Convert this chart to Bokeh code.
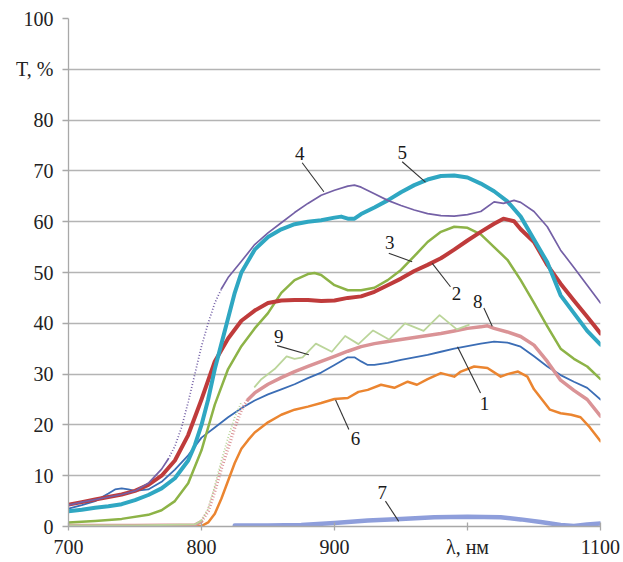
import numpy as np
from bokeh.plotting import figure
from bokeh.models import Range1d, FixedTicker
from bokeh.embed import file_html
from bokeh.resources import INLINE
from bokeh.core.properties import value

# ---------------- data ----------------
x_ticks = [700, 800, 900, 1000, 1100]
x_tick_labels = {1000: "λ, нм"}
y_ticks = [0, 10, 20, 30, 40, 50, 60, 70, 80, 90, 100]
y_tick_labels = {90: "T, %"}

x1 = [700, 710, 720, 730, 735, 740, 745, 750, 760, 770, 780, 790, 800, 810, 820, 830, 840, 850, 860, 870,
      880, 890, 900, 910, 915, 920, 925, 930, 940, 950, 960, 970, 980, 990, 1000, 1010, 1020, 1030, 1040,
      1050, 1060, 1070, 1080, 1090, 1100]
t1 = [3.5, 4.2, 5.0, 6.5, 7.3, 7.5, 7.3, 7.0, 7.3, 8.8, 11.2, 14.0, 17.5, 19.5, 21.5, 23.3, 24.8, 26.0, 27.0, 28.0,
      29.2, 30.3, 31.8, 33.3, 33.3, 32.5, 31.8, 31.8, 32.2, 32.8, 33.3, 33.8, 34.4, 35.0, 35.5, 36.0, 36.4, 36.2, 35.4,
      33.5, 31.5, 29.8, 28.5, 27.3, 25.0]

x2 = [700, 710, 720, 730, 740, 750, 760, 770, 780, 790, 800, 810, 820, 830, 840, 850, 860, 870, 880, 890, 900,
      910, 920, 930, 940, 950, 960, 970, 980, 990, 1000, 1010, 1020, 1027, 1035, 1040, 1050, 1060, 1070, 1080,
      1090, 1100]
t2 = [4.3, 4.8, 5.3, 5.8, 6.3, 7.0, 8.2, 10.0, 13.0, 18.0, 25.0, 32.5, 37.0, 40.5, 42.5, 44.0, 44.5, 44.6, 44.6,
      44.4, 44.5, 45.0, 45.3, 46.2, 47.5, 48.8, 50.3, 51.5, 52.8, 54.5, 56.3, 58.0, 59.6, 60.6, 60.1, 58.5, 56.0,
      51.5, 47.8, 44.5, 41.3, 38.0]

x3 = [700, 720, 740, 760, 770, 780, 790, 800, 810, 820, 830, 840, 850, 860, 870, 880, 885, 890, 900, 910, 920,
      930, 940, 950, 960, 970, 980, 990, 1000, 1010, 1020, 1030, 1040, 1050, 1060, 1070, 1080, 1090, 1100]
t3 = [0.8, 1.1, 1.5, 2.3, 3.2, 5.0, 8.5, 15.0, 24.0, 31.0, 35.5, 39.0, 42.0, 46.0, 48.5, 49.7, 49.9, 49.5, 47.5,
      46.5, 46.5, 47.0, 48.5, 50.5, 53.2, 56.0, 58.0, 59.0, 58.8, 57.5, 55.0, 52.5, 48.5, 44.0, 39.4, 35.0, 33.0,
      31.5, 29.0]

x4 = [700, 710, 720, 730, 740, 750, 760, 770, 775, 780, 785, 790, 795, 800, 805, 810, 815, 820, 830, 840, 850,
      860, 870, 880, 890, 900, 910, 915, 920, 930, 940, 950, 960, 970, 980, 990, 1000, 1010, 1020, 1027, 1035,
      1040, 1050, 1060, 1070, 1080, 1090, 1100]
t4 = [4.2, 4.8, 5.3, 5.8, 6.3, 7.0, 8.5, 11.3, 13.3, 15.8, 19.5, 24.5, 30.0, 35.5, 40.0, 44.0, 46.8, 49.0, 52.2,
      55.5, 57.8, 59.8, 61.8, 63.6, 65.2, 66.2, 67.0, 67.2, 66.8, 65.5, 64.2, 63.2, 62.3, 61.6, 61.2, 61.1, 61.4,
      62.0, 63.9, 63.6, 64.2, 63.8, 62.0, 59.0, 54.4, 51.0, 47.5, 44.0]

x5 = [700, 710, 720, 730, 740, 750, 760, 770, 780, 790, 795, 800, 805, 810, 815, 820, 825, 830, 840, 850, 860,
      870, 880, 890, 900, 905, 910, 915, 920, 930, 940, 950, 960, 970, 980, 990, 1000, 1010, 1020, 1030, 1040,
      1050, 1060, 1070, 1080, 1090, 1100]
t5 = [3.0, 3.3, 3.7, 4.0, 4.4, 5.2, 6.2, 7.5, 9.5, 13.0, 16.0, 20.0, 25.0, 31.0, 36.0, 41.0, 46.0, 50.0, 54.5,
      57.0, 58.5, 59.5, 60.0, 60.3, 60.8, 61.0, 60.6, 60.6, 61.5, 62.8, 64.2, 65.8, 67.2, 68.3, 69.0, 69.1, 68.7,
      67.5, 66.0, 64.0, 61.0, 56.5, 52.0, 45.5, 42.0, 38.5, 35.8]

x6 = [700, 750, 800, 805, 810, 815, 820, 825, 830, 835, 840, 850, 860, 870, 880, 890, 900, 910, 918, 925, 935,
      945, 955, 962, 970, 980, 990, 995, 1005, 1015, 1025, 1030, 1038, 1045, 1050, 1056, 1062, 1070, 1078, 1085,
      1092, 1100]
t6 = [0.1, 0.1, 0.1, 0.8, 2.5, 5.5, 9.0, 12.5, 15.3, 17.0, 18.5, 20.5, 22.0, 23.0, 23.6, 24.3, 25.1, 25.3, 26.5,
      26.9, 27.9, 27.3, 28.5, 27.9, 29.0, 30.2, 29.5, 30.5, 31.5, 31.2, 29.5, 30.0, 30.5, 29.5, 27.0, 25.0, 23.0,
      22.3, 22.0, 21.5, 19.5, 16.8]

x7 = [825, 850, 875, 900, 925, 950, 975, 1000, 1025, 1040, 1055, 1070, 1080, 1090, 1100]
t7 = [0.2, 0.2, 0.3, 0.7, 1.2, 1.5, 1.8, 1.9, 1.8, 1.4, 0.9, 0.3, 0.1, 0.4, 0.6]

x8 = [700, 750, 795, 800, 805, 810, 815, 820, 825, 830, 835, 840, 850, 860, 870, 880, 890, 900, 910, 920, 930,
      940, 950, 960, 970, 980, 990, 1000, 1010, 1015, 1020, 1030, 1040, 1050, 1060, 1070, 1080, 1090, 1100]
t8 = [0.2, 0.2, 0.3, 1.0, 3.0, 7.0, 11.5, 15.5, 19.5, 23.0, 25.0, 26.3, 28.0, 29.3, 30.5, 31.5, 32.5, 33.5, 34.5,
      35.4, 36.0, 36.4, 36.8, 37.2, 37.6, 38.0, 38.5, 39.0, 39.3, 39.5, 39.0, 38.3, 37.4, 35.7, 32.5, 28.8, 26.8,
      25.0, 21.7]

x9 = [700, 750, 795, 800, 805, 810, 815, 820, 825, 830, 840, 845, 855, 864, 870, 876, 886, 898, 908, 918, 929,
      941, 953, 967, 979, 992, 1001]
t9 = [0.2, 0.2, 0.4, 1.2, 3.5, 8.0, 13.0, 17.5, 21.5, 24.5, 27.5, 29.0, 31.0, 33.5, 33.0, 33.3, 36.0, 34.4, 37.5,
      35.9, 38.6, 36.8, 40.0, 38.5, 41.6, 38.8, 39.7]

# curve labels and leader lines (data coordinates)
label_text = ["1", "2", "3", "4", "5", "6", "7", "8", "9"]
label_x = [1012.8, 991.7, 941.6, 873.9, 950.9, 915.8, 935.9, 1007.7, 858.1]
label_y = [24.2, 45.9, 55.9, 73.4, 73.7, 17.4, 6.6, 44.3, 37.4]
lead_x0 = [1009.8, 987.2, 940.8, 875.7, 950.9, 910.8, 938.3, 1012.3, 856.9]
lead_y0 = [26.3, 47.2, 53.8, 71.6, 71.8, 19.1, 5.0, 43.0, 35.6]
lead_x1 = [992.5, 973.5, 958.4, 892.0, 968.4, 900.8, 948.3, 1018.6, 880.7]
lead_y1 = [35.4, 51.8, 52.1, 65.9, 67.8, 24.9, 1.0, 39.4, 33.8]

# ---------------- figure ----------------
SERIF = "Liberation Serif"
p = figure(width=620, height=560, output_backend="svg", toolbar_location=None,
           x_range=Range1d(700, 1100), y_range=Range1d(0, 100),
           min_border_left=68, min_border_right=20, min_border_top=18, min_border_bottom=33)
p.background_fill_color = "white"
p.border_fill_color = "white"
p.outline_line_color = None

p.xgrid.grid_line_color = None
p.ygrid.grid_line_color = "#b4b4b4"
p.ygrid.grid_line_width = 1.3
p.ygrid.ticker = FixedTicker(ticks=y_ticks)

for ax in (p.xaxis[0], p.yaxis[0]):
    ax.axis_line_color = "#a8a8a8"
    ax.axis_line_width = 1.3
    ax.major_tick_line_color = "#a8a8a8"
    ax.major_tick_line_width = 1.3
    ax.minor_tick_line_color = None
    ax.major_label_text_font = SERIF
    ax.major_label_text_color = "#222222"
    ax.major_label_text_font_size = "20px"

p.xaxis.ticker = FixedTicker(ticks=x_ticks)
p.xaxis.major_label_overrides = x_tick_labels
p.xaxis.major_tick_in = 4
p.xaxis.major_tick_out = 4
p.xaxis.major_label_standoff = 5

p.yaxis.ticker = FixedTicker(ticks=y_ticks)
p.yaxis.major_label_overrides = y_tick_labels
p.yaxis.major_tick_in = 0
p.yaxis.major_tick_out = 6
p.yaxis.major_label_standoff = 9


def draw(x, y, color, width, dotted=None):
    x = np.asarray(x, float)
    y = np.asarray(y, float)
    if dotted is None:
        p.line(x, y, line_color=color, line_width=width, line_join="round", line_cap="round")
        return
    lo, hi = dotted
    a = x <= lo
    b = (x >= lo) & (x <= hi)
    c = x >= hi
    p.line(x[a], y[a], line_color=color, line_width=width, line_join="round", line_cap="round")
    p.line(x[b], y[b], line_color=color, line_width=width, line_dash="1 2")
    p.line(x[c], y[c], line_color=color, line_width=width, line_join="round", line_cap="round")


draw(x7, t7, "#8E9EDB", 4.5)
draw(x6, t6, "#EB8530", 2.5)
draw(x1, t1, "#3B6DB5", 1.8)
draw(x8, t8, "#DA9396", 3.5, dotted=(800, 835))
draw(x9, t9, "#BBD59A", 1.8, dotted=(800, 835))
draw(x3, t3, "#8DB347", 2.5)
draw(x2, t2, "#BF3B3B", 4.0)
draw(x5, t5, "#2FA7C2", 4.0)
draw(x4, t4, "#7460A6", 1.7, dotted=(775, 815))

p.segment(x0=lead_x0, y0=lead_y0, x1=lead_x1, y1=lead_y1, line_color="#333333", line_width=1.1)
p.text(x=label_x, y=label_y, text=label_text, text_font=value(SERIF), text_font_size="19px",
       text_color="#1a1a1a", text_align="center", text_baseline="middle")

open("out.html", "w").write(file_html(p, INLINE))
